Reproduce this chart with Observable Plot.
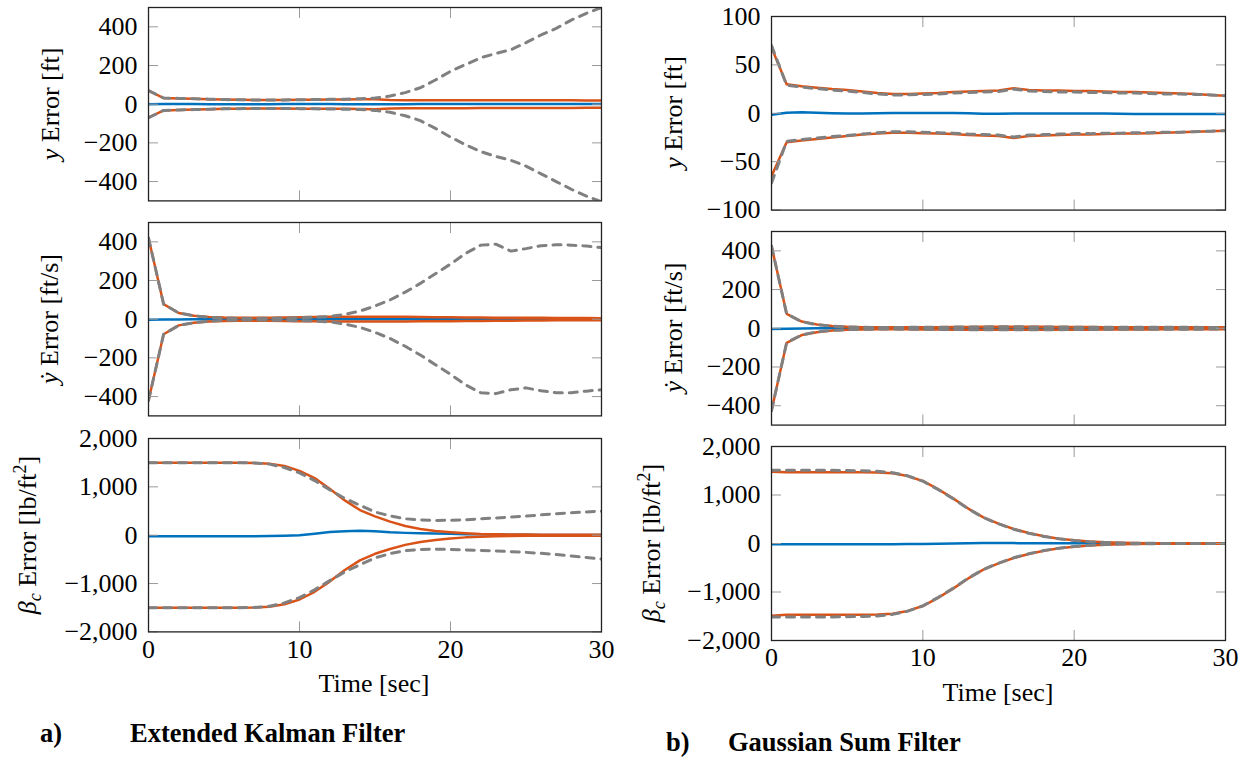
<!DOCTYPE html>
<html>
<head>
<meta charset="utf-8">
<script src="https://cdn.jsdelivr.net/npm/d3@7"></script>
<script src="https://cdn.jsdelivr.net/npm/@observablehq/plot@0.6"></script>
<style>
  body { margin: 0; background: #fff; }
  #wrap { position: relative; width: 1247px; height: 759px; overflow: hidden; background: #fff; font-family: "Liberation Serif", serif; }
  .panel { position: absolute; }
  .panel svg { overflow: visible; font-family: "Liberation Serif", serif !important; }
  .panel svg text { font-family: "Liberation Serif", serif !important; }
  #labels { position: absolute; left: 0; top: 0; pointer-events: none; }
</style>
</head>
<body>
<div id="wrap">
  <svg id="labels" width="1247" height="759" font-family="Liberation Serif, serif" fill="#000">
    <!-- left column y labels -->
    <text transform="translate(59,104) rotate(-90)" text-anchor="middle" font-size="26"><tspan font-style="italic">y</tspan> Error [ft]</text>
    <text transform="translate(58,319) rotate(-90)" text-anchor="middle" font-size="26"><tspan font-style="italic">ẏ</tspan> Error [ft/s]</text>
    <text transform="translate(36,535) rotate(-90)" text-anchor="middle" font-size="26"><tspan font-style="italic">β</tspan><tspan font-style="italic" font-size="18" dy="5">c</tspan><tspan dy="-5"> Error [lb/ft</tspan><tspan font-size="18" dy="-10">2</tspan><tspan dy="10">]</tspan></text>
    <!-- right column y labels -->
    <text transform="translate(682,112.5) rotate(-90)" text-anchor="middle" font-size="26"><tspan font-style="italic">y</tspan> Error [ft]</text>
    <text transform="translate(682,327.5) rotate(-90)" text-anchor="middle" font-size="26"><tspan font-style="italic">ẏ</tspan> Error [ft/s]</text>
    <text transform="translate(660,543) rotate(-90)" text-anchor="middle" font-size="26"><tspan font-style="italic">β</tspan><tspan font-style="italic" font-size="18" dy="5">c</tspan><tspan dy="-5"> Error [lb/ft</tspan><tspan font-size="18" dy="-10">2</tspan><tspan dy="10">]</tspan></text>
    <!-- x labels -->
    <text x="374" y="692" text-anchor="middle" font-size="26">Time [sec]</text>
    <text x="998" y="701" text-anchor="middle" font-size="26">Time [sec]</text>
    <!-- captions -->
    <text x="40" y="742" font-size="26.5" font-weight="bold">a)</text>
    <text x="130" y="742" font-size="26.5" font-weight="bold">Extended Kalman Filter</text>
    <text x="666" y="751" font-size="26.5" font-weight="bold">b)</text>
    <text x="728" y="751" font-size="26.5" font-weight="bold">Gaussian Sum Filter</text>
  </svg>
</div>
<script>
// ---------- data ----------
const time = [0,1,2,3,4,5,6,7,8,9,10,11,12,13,14,15,16,17,18,19,20,21,22,23,24,25,26,27,28,29,30];

// EKF: y error [ft]
const ekfYErr  = [0,1,1,0.5,0,0,0,0,0,0.5,0.5,0.5,0.5,0,0,0,0,0,0.5,0.5,0.5,0.5,0.5,0.5,0.5,0.5,0.5,0.5,0.5,0.5,0.5];
const ekfYSigUp = [70,32,30,28,26,24,23,22,22,22,23,23,24,24,25,26,22,21,21,21,21,21,20,20,20,20,20,20,20,19,19];
const ekfYSigLo = [-70,-32,-30,-28,-26,-24,-23,-22,-22,-22,-23,-23,-24,-24,-25,-26,-22,-21,-21,-21,-21,-21,-20,-20,-20,-20,-20,-20,-20,-19,-19];
const ekfYMcUp  = [70,32,30,28,26,24,23,22,22,22,23,24,25,26,28,32,42,60,85,125,170,205,240,262,282,318,358,392,435,470,500];
const ekfYMcLo  = [-70,-32,-30,-28,-26,-24,-23,-22,-22,-22,-23,-24,-25,-26,-28,-32,-42,-60,-85,-125,-170,-210,-245,-270,-290,-320,-360,-400,-440,-475,-505];

// EKF: y-dot error [ft/s]
const ekfVErr   = [-3,-2,-1,0,0,0,0,0,0,0,0,0,0,0,0,0,0,0,0,0,0,0,0,0,0,0,0,0,0,0,0];
const ekfVSigUp = [420,78,32,18,12,9,8,8,8,9,10,11,12,12,12,12,12,12,11,10,10,9,9,8,8,7,7,6,6,6,5];
const ekfVSigLo = [-420,-78,-32,-18,-12,-9,-8,-8,-8,-9,-10,-11,-12,-12,-12,-12,-12,-12,-11,-10,-10,-9,-9,-8,-8,-7,-7,-6,-6,-6,-5];
const ekfVMcUp  = [420,78,32,18,10,6,5,4,5,6,8,10,14,25,42,68,100,140,185,235,285,340,383,388,352,365,380,385,383,378,370];
const ekfVMcLo  = [-420,-78,-32,-18,-10,-6,-5,-4,-5,-6,-8,-10,-14,-25,-42,-68,-100,-140,-185,-235,-285,-340,-380,-385,-365,-355,-370,-380,-380,-372,-365];

// EKF: beta_c error [lb/ft^2]
const ekfBErr   = [-20,-20,-20,-20,-20,-20,-20,-20,-18,-10,0,30,65,80,90,80,60,48,40,34,28,22,18,14,11,8,6,5,4,3,3];
const ekfBSigUp = [1500,1500,1500,1500,1500,1500,1500,1495,1480,1430,1330,1180,960,720,520,390,280,190,130,85,60,40,25,18,14,12,10,10,10,10,10];
const ekfBSigLo = [-1500,-1500,-1500,-1500,-1500,-1500,-1500,-1495,-1480,-1430,-1330,-1170,-960,-720,-520,-385,-285,-200,-140,-100,-70,-45,-30,-20,-15,-12,-10,-10,-10,-10,-10];
const ekfBMcUp  = [1500,1500,1500,1500,1500,1500,1500,1495,1470,1400,1290,1130,940,760,620,480,400,340,315,305,310,320,340,355,375,395,420,445,465,480,497];
const ekfBMcLo  = [-1500,-1500,-1500,-1500,-1500,-1500,-1500,-1495,-1470,-1400,-1290,-1130,-940,-760,-610,-470,-380,-320,-295,-290,-295,-305,-315,-325,-340,-355,-375,-400,-430,-460,-495];

// GSF: y error [ft]
const gsfYErr   = [-1.5,0.5,1.2,0.5,0,-0.3,-0.2,0,0.2,0.3,0.4,0.3,0.2,0,-0.5,-0.4,-0.3,-0.2,-0.3,-0.3,-0.3,-0.2,-0.3,-0.5,-0.6,-0.7,-0.6,-0.7,-0.8,-0.7,-0.6];
const gsfYSigUp = [68,30,28,26.5,25,24,22.5,21,20,20,20.5,21,22,22.5,23,23.5,26,24,23.5,23.5,23,23,22.5,22,22,21.5,21,20.5,20,19,18];
const gsfYSigLo = [-65,-30,-28,-26.5,-25,-23.5,-22,-21,-20,-20,-20.5,-21,-21.5,-22.5,-23,-23.5,-25.5,-23.5,-23,-22.5,-22,-22,-21.5,-21,-21,-20.5,-20,-19.5,-19,-18.5,-18];
const gsfYMcUp  = [70,29,27,25.5,24,23,21.5,20,19,19,19.5,20,21,21.5,22,22.5,25,23,22.5,22,22,21.5,21.5,21,21,20.5,20,20,19.5,19,18];
const gsfYMcLo  = [-72,-29,-27,-25.5,-24,-23,-21.5,-20,-19,-19,-19.5,-20,-20.5,-21.5,-22,-22.5,-24.5,-22.5,-22,-21.5,-21,-21,-20.5,-20.5,-20,-20,-19.5,-19.5,-19,-18.5,-18];

// GSF: y-dot error [ft/s]
const gsfVErr   = [-3,-2,-1,0,0,0,0,0,0,0,0,0,0,0,0,0,0,0,0,0,0,0,0,0,0,0,0,0,0,0,0];
const gsfVSigUp = [425,75,35,20,12,8,6,5,5,5,6,6,7,7,8,8,8,8,8,7,7,7,6,6,6,6,5,5,5,5,5];
const gsfVSigLo = [-425,-75,-35,-20,-12,-8,-6,-5,-5,-5,-6,-6,-7,-7,-8,-8,-8,-8,-8,-7,-7,-7,-6,-6,-6,-6,-5,-5,-5,-5,-5];
const gsfVMcUp  = [425,74,34,18,11,7,5,4,4,5,5,6,6,7,7,8,8,7,7,7,6,6,6,5,5,5,5,5,5,4,4];
const gsfVMcLo  = [-425,-74,-34,-18,-11,-7,-5,-4,-4,-5,-5,-6,-6,-7,-7,-8,-8,-7,-7,-7,-6,-6,-6,-5,-5,-5,-5,-5,-5,-4,-4];

// GSF: beta_c error [lb/ft^2]
const gsfBErr   = [-15,-15,-15,-15,-15,-15,-15,-15,-15,-12,-8,-3,2,6,10,10,8,6,5,4,3,3,2,2,2,1,1,1,1,1,1];
const gsfBSigUp = [1480,1470,1470,1470,1470,1470,1470,1465,1450,1390,1290,1120,930,720,540,410,300,215,150,100,65,40,25,15,8,5,3,3,3,3,3];
const gsfBSigLo = [-1490,-1470,-1470,-1470,-1470,-1470,-1470,-1465,-1450,-1390,-1290,-1120,-930,-720,-540,-410,-300,-215,-150,-100,-65,-40,-25,-15,-8,-5,-3,-3,-3,-3,-3];
const gsfBMcUp  = [1510,1510,1510,1510,1510,1505,1500,1490,1460,1395,1285,1115,925,715,535,405,295,210,145,98,62,38,22,12,6,4,2,2,2,2,2];
const gsfBMcLo  = [-1515,-1515,-1515,-1515,-1515,-1510,-1505,-1495,-1462,-1395,-1285,-1115,-925,-715,-535,-405,-295,-210,-145,-98,-62,-38,-22,-12,-6,-4,-2,-2,-2,-2,-2];

const xTicks = [0,10,20,30];
const yTicksPos = [-400,-200,0,200,400];
const yTicksGsfY = [-100,-50,0,50,100];
const yTicksBeta = [-2000,-1000,0,1000,2000];

// ---------- style ----------
const BLUE = "#0072BD", ORANGE = "#D95319", GRAY = "#808080", TICK = "#9a9a9a";
const SERIF = "Liberation Serif, serif";

const panels = [
  {left: 147.7, top: 7.3,   w: 453, h: 193.4, domain: [-500,500],   ticks: yTicksPos,  s: [ekfYErr, ekfYSigUp, ekfYSigLo, ekfYMcUp, ekfYMcLo], bottom: false},
  {left: 147.7, top: 222.3, w: 453, h: 193.4, domain: [-500,500],   ticks: yTicksPos,  s: [ekfVErr, ekfVSigUp, ekfVSigLo, ekfVMcUp, ekfVMcLo], bottom: false},
  {left: 147.7, top: 438.3, w: 453, h: 193.4, domain: [-2000,2000], ticks: yTicksBeta, s: [ekfBErr, ekfBSigUp, ekfBSigLo, ekfBMcUp, ekfBMcLo], bottom: true, pad: 8},
  {left: 771,   top: 15.7,  w: 454, h: 193.6, domain: [-100,100],   ticks: yTicksGsfY, s: [gsfYErr, gsfYSigUp, gsfYSigLo, gsfYMcUp, gsfYMcLo], bottom: false},
  {left: 771,   top: 230.7, w: 454, h: 193.6, domain: [-500,500],   ticks: yTicksPos,  s: [gsfVErr, gsfVSigUp, gsfVSigLo, gsfVMcUp, gsfVMcLo], bottom: false},
  {left: 771,   top: 446,   w: 454, h: 194,   domain: [-2000,2000], ticks: yTicksBeta, s: [gsfBErr, gsfBSigUp, gsfBSigLo, gsfBMcUp, gsfBMcLo], bottom: true, pad: 7}
];

const wrap = document.getElementById("wrap");
const labelsSvg = document.getElementById("labels");

for (const p of panels) {
  const [err, sUp, sLo, mUp, mLo] = p.s;
  const lineOpts = (arr, stroke, extra = {}) => Plot.line(arr, {x: time, y: arr, stroke, strokeWidth: 2.5, clip: true, ...extra});
  const dash = {strokeWidth: 3, strokeDasharray: "8,7"};
  const marks = [
    lineOpts(err, BLUE),
    lineOpts(sUp, ORANGE),
    lineOpts(sLo, ORANGE),
    lineOpts(mUp, GRAY, dash),
    lineOpts(mLo, GRAY, dash),
    Plot.axisY({anchor: "left",  ticks: p.ticks, tickSize: -10, tickFormat: () => "", stroke: TICK, label: null}),
    Plot.axisY({anchor: "right", ticks: p.ticks, tickSize: -10, tickFormat: () => "", stroke: TICK, label: null}),
    Plot.axisX({anchor: "bottom", ticks: xTicks, tickSize: -10, tickFormat: () => "", stroke: TICK, label: null}),
    Plot.axisX({anchor: "top",    ticks: xTicks, tickSize: -10, tickFormat: () => "", stroke: TICK, label: null}),
    Plot.axisY({anchor: "left", ticks: p.ticks, tickSize: 0, tickPadding: 11, label: null, fontFamily: SERIF}),
    Plot.frame({stroke: "#222", strokeWidth: 1.3})
  ];
  if (p.bottom) marks.push(Plot.axisX({anchor: "bottom", ticks: xTicks, tickSize: 0, tickPadding: p.pad, label: null, fontFamily: SERIF}));
  const chart = Plot.plot({
    width: p.w, height: p.h,
    marginTop: 0, marginRight: 0, marginBottom: 0, marginLeft: 0,
    style: {fontFamily: SERIF, fontSize: "26px", background: "transparent", overflow: "visible", color: "#000"},
    x: {domain: [0, 30]},
    y: {domain: p.domain},
    marks
  });
  const div = document.createElement("div");
  div.className = "panel";
  div.style.left = p.left + "px";
  div.style.top = p.top + "px";
  div.style.width = p.w + "px";
  div.style.height = p.h + "px";
  div.appendChild(chart);
  wrap.insertBefore(div, labelsSvg);
}
</script>
</body>
</html>
